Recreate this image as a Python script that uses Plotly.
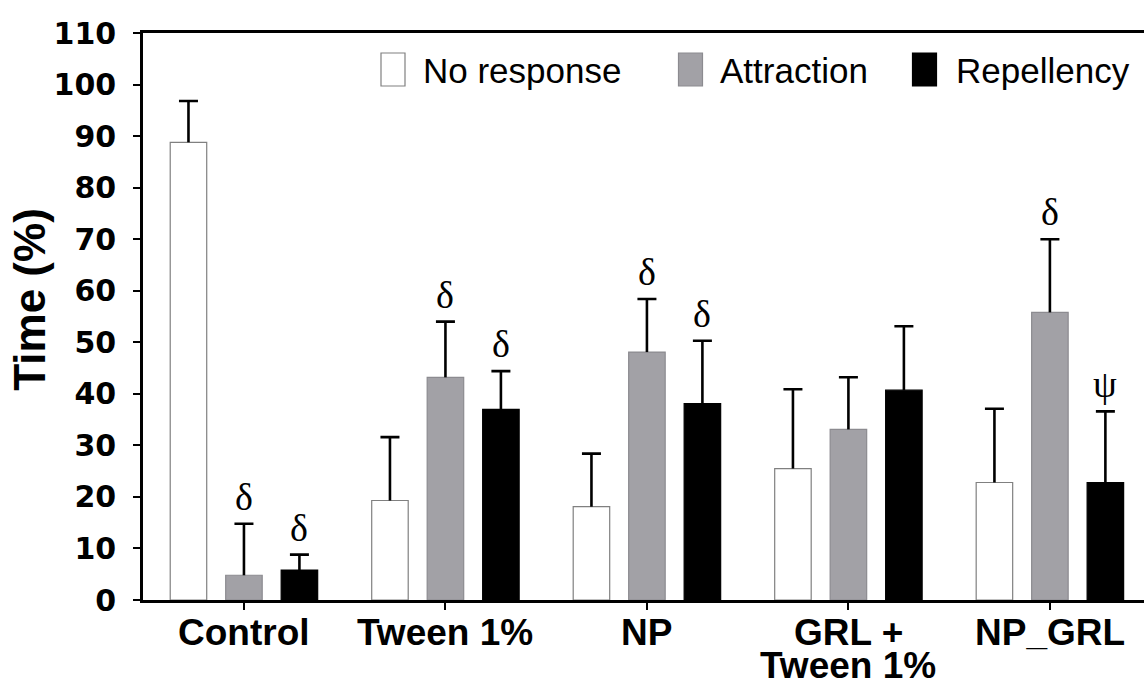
import plotly.graph_objects as go

# ---- data -------------------------------------------------------------
categories = ["Control", "Tween 1%", "NP", "GRL +<br>Tween 1%", "NP_GRL"]
series_names = ["No response", "Attraction", "Repellency"]

no_response = [88.8, 19.3, 18.1, 25.5, 22.8]
attraction = [4.8, 43.2, 48.1, 33.1, 55.8]
repellency = [5.8, 37.0, 38.1, 40.7, 22.8]

# upper error (SD)
no_response_err = [8.0, 12.3, 10.3, 15.4, 14.3]
attraction_err = [10.0, 10.8, 10.3, 10.1, 14.2]
repellency_err = [3.0, 7.4, 12.2, 12.4, 13.8]

# significance marks above each bar ("" = none)
no_response_sig = ["", "", "", "", ""]
attraction_sig = ["δ", "δ", "δ", "", "δ"]
repellency_sig = ["δ", "δ", "δ", "", "ψ"]

y_ticks = list(range(0, 111, 10))

# ---- styling ----------------------------------------------------------
fills = ["#ffffff", "#a2a1a6", "#000000"]
outlines = ["#808080", "#8c8b90", "#000000"]
BARGAP = 0.174
BARGROUPGAP = 0.342
X_RANGE = [-0.501, 4.467]
ERR_THICK = 2.6
CAP_HALF = 9.5

ML, MR, MT, MB = 143, 0, 33, 91
W, H = 1144, 691

values = [no_response, attraction, repellency]
errors = [no_response_err, attraction_err, repellency_err]
sigs = [no_response_sig, attraction_sig, repellency_sig]

fig = go.Figure()
for gi, (name, v, e, fc, lc) in enumerate(zip(series_names, values, errors, fills, outlines)):
    # bars with the upward error stem
    fig.add_trace(go.Bar(
        name=name, x=categories, y=v, offsetgroup=str(gi),
        marker=dict(color=fc, line=dict(color=lc, width=1.2)),
        error_y=dict(type="data", array=e, arrayminus=[0] * len(e),
                     symmetric=False, color="#000000", thickness=ERR_THICK, width=0),
        showlegend=False,
    ))
    # cap at the end of each error bar (transparent carrier bar)
    tops = [a + b for a, b in zip(v, e)]
    fig.add_trace(go.Bar(
        x=categories, y=tops, offsetgroup=str(gi),
        marker=dict(color="rgba(0,0,0,0)", line=dict(width=0)),
        error_y=dict(type="data", array=[0] * len(e), arrayminus=[0] * len(e),
                     symmetric=False, color="#000000", thickness=ERR_THICK, width=CAP_HALF),
        showlegend=False, hoverinfo="skip",
    ))

annotations = []

# category labels under the axis, one annotation per line
for ci, cat in enumerate(categories):
    for li, line in enumerate(cat.split("<br>")):
        annotations.append(dict(
            x=ci, y=0, xref="x", yref="paper", xanchor="center", yanchor="top",
            yshift=-9.5 - li * 33.5, text=line, showarrow=False,
            font=dict(family="Liberation Sans", size=37, color="#000000", weight="bold"),
        ))

# significance symbols above the error caps
slot = (1 - BARGAP) / len(series_names)
for si, (v, e, s) in enumerate(zip(values, errors, sigs)):
    for ci in range(len(categories)):
        if not s[ci]:
            continue
        annotations.append(dict(
            x=ci + (si - 1) * slot, y=v[ci] + e[ci], xref="x", yref="y",
            xanchor="center", yanchor="bottom", yshift=4, text=s[ci],
            showarrow=False,
            font=dict(family="Liberation Serif", size=38, color="#000000"),
        ))

# y-axis title
annotations.append(dict(
    x=0, y=0.5295, xref="paper", yref="paper", xshift=-113,
    xanchor="center", yanchor="middle", textangle=-90, text="<b>Time (%)</b>",
    showarrow=False, font=dict(family="Liberation Sans", size=44, color="#000000"),
))

# legend: swatch boxes and labels along the top
legend_box_x = [381, 678.5, 912.5]
legend_text_x = [421, 717.5, 954]
shapes = []
for name, fc, lc, bx, tx in zip(series_names, fills, outlines, legend_box_x, legend_text_x):
    shapes.append(dict(
        type="rect", xref="paper", yref="paper", xsizemode="pixel", ysizemode="pixel",
        xanchor=0, yanchor=1, x0=bx - ML, x1=bx - ML + 24,
        y0=-(53 - MT), y1=-(86 - MT),
        fillcolor=fc, line=dict(color=lc, width=1.2),
    ))
    annotations.append(dict(
        x=0, y=1, xref="paper", yref="paper", xshift=tx - ML, yshift=-(70 - MT),
        xanchor="left", yanchor="middle", text=name, showarrow=False,
        font=dict(family="Liberation Sans", size=35, color="#000000"),
    ))

fig.update_layout(
    width=W, height=H,
    margin=dict(l=ML, r=MR, t=MT, b=MB, pad=0),
    paper_bgcolor="#ffffff", plot_bgcolor="#ffffff",
    barmode="group", bargap=BARGAP, bargroupgap=BARGROUPGAP,
    annotations=annotations, shapes=shapes,
    showlegend=False,
)
fig.update_xaxes(
    range=X_RANGE, showgrid=False, zeroline=False,
    showline=True, linecolor="#000000", linewidth=2.6, mirror=True,
    ticks="outside", ticklen=7, tickwidth=2, tickcolor="#000000",
    showticklabels=False,
)
fig.update_yaxes(
    range=[0, 110], tickvals=y_ticks, showgrid=False, zeroline=False,
    showline=True, linecolor="#000000", linewidth=2.6,
    ticks="outside", ticklen=7, tickwidth=2, tickcolor="#000000",
    ticklabelstandoff=11,
    tickfont=dict(family="DejaVu Sans", size=30, color="#000000", weight="bold"),
)

fig.write_html("out.html")
